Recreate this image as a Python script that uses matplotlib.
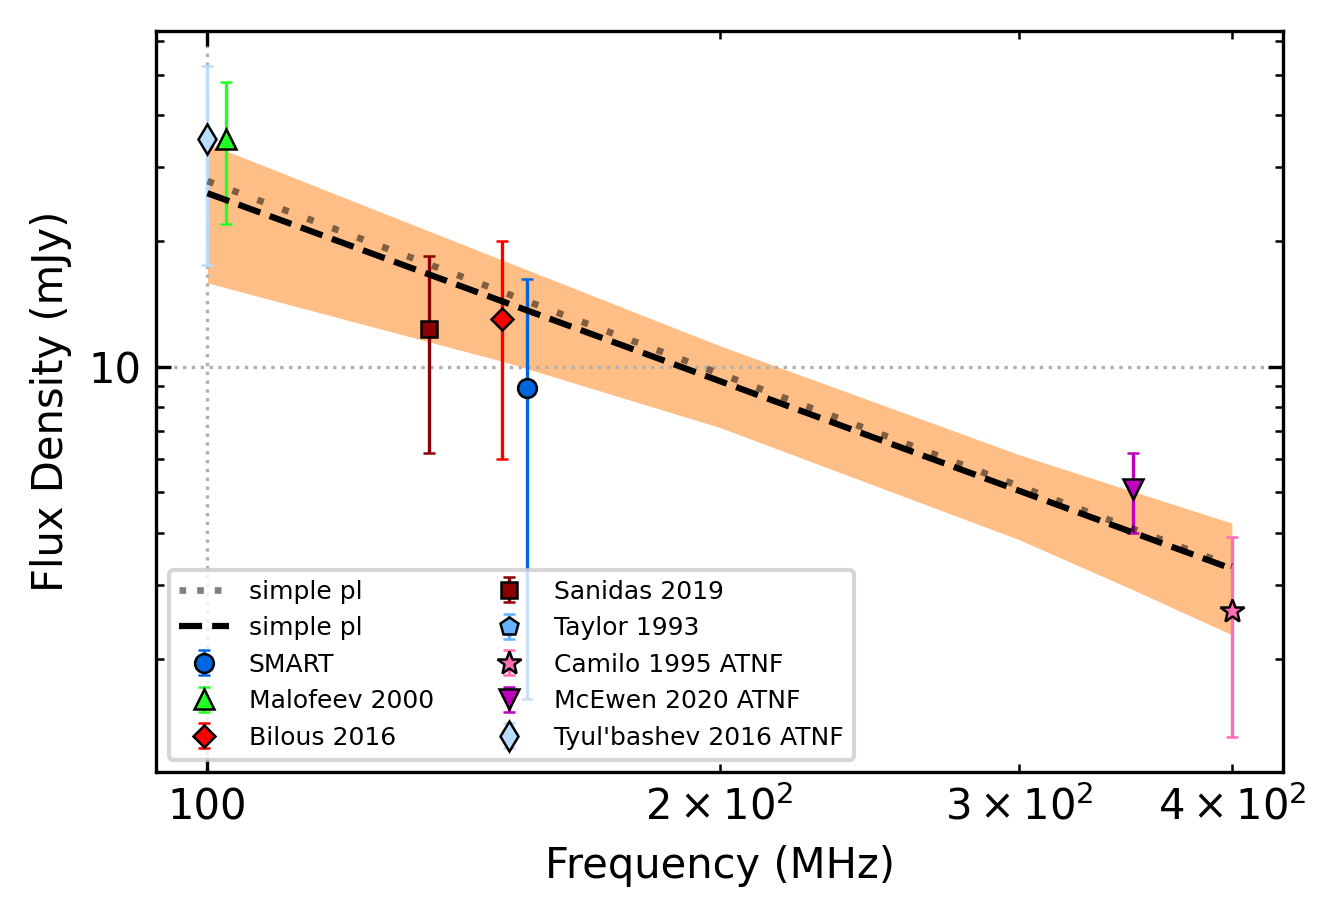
import numpy as np
import matplotlib
matplotlib.use("Agg")
import matplotlib.pyplot as plt
from matplotlib.lines import Line2D
from matplotlib.ticker import FormatStrFormatter

# fitted power laws (read at 100 and 400 MHz)
fit_freq = [100.0, 400.0]
fit_dotted = [27.8, 3.33]
fit_dashed = [26.0, 3.28]

# uncertainty band of the fit
band_freq = [100.0, 150.0, 200.0, 300.0, 350.0, 400.0]
band_hi = [34.2, 17.8, 11.22, 6.15, 5.02, 4.22]
band_lo = [15.86, 10.22, 7.15, 3.85, 2.92, 2.28]

# measurements: label, freq (MHz), flux (mJy), err (mJy)
labels = ["SMART", "Malofeev 2000", "Bilous 2016", "Sanidas 2019", "Taylor 1993",
          "Camilo 1995 ATNF", "McEwen 2020 ATNF", "Tyul'bashev 2016 ATNF"]
freqs = [154.0, 102.5, 149.0, 135.0, np.nan, 400.0, 350.0, 100.0]
fluxes = [8.9, 35.0, 13.0, 12.3, np.nan, 2.6, 5.1, 35.0]
errors = [7.3, 13.0, 7.0, 6.1, np.nan, 1.3, 1.1, 17.5]

markers = ["o", "^", "D", "s", "p", "*", "v", "d"]
msizes = [4.5, 4.7, 3.6, 4.0, 4.5, 6.0, 4.8, 5.0]
colors = ["#0066dd", "#22ff22", "#ff0000", "#8b0000", "#66b3ff",
          "#ff6eb4", "#bf00bf", "#bbdcff"]

fig, ax = plt.subplots(figsize=(4.45, 3.06), dpi=300)
fig.subplots_adjust(left=0.117, right=0.961, top=0.966, bottom=0.159)

ax.set_xscale("log")
ax.set_yscale("log")

ax.fill_between(band_freq, band_lo, band_hi, color="C1", alpha=0.5, lw=0, zorder=1)

ax.plot(fit_freq, fit_dotted, ls=(0, (1, 3)), color="k", alpha=0.5, lw=1.6, zorder=4)
l2, = ax.plot(fit_freq, fit_dashed, ls="--", color="k", lw=1.5,
              zorder=4, label="simple pl")
l1 = Line2D([], [], ls=":", color="k", alpha=0.5, lw=1.6, label="simple pl")
handles = [l1, l2]

for lab, f, s, e, m, ms, c in zip(labels, freqs, fluxes, errors, markers, msizes, colors):
    h = ax.errorbar([f], [s], yerr=[e], fmt=m, ms=ms, mfc=c, mec="k", mew=0.6,
                    ecolor=c, elinewidth=0.8, capsize=1.5, capthick=0.8,
                    zorder=3, label=lab)
    handles.append(h)

ax.set_xlim(93.3, 428.6)
ax.set_ylim(1.07, 63.5)

ax.xaxis.set_major_formatter(FormatStrFormatter("%g"))
ax.yaxis.set_major_formatter(FormatStrFormatter("%g"))
ax.tick_params(which="both", direction="in", top=True, right=True)
ax.tick_params(labelsize=10)
ax.grid(which="major", ls=":", color="#b0b0b0", lw=0.8)

ax.set_xlabel("Frequency (MHz)", fontsize=10)
ax.set_ylabel("Flux Density (mJy)", fontsize=10)

ax.legend(handles=handles, loc="lower left", ncol=2, fontsize=6)

fig.savefig("out.png", dpi=300)
